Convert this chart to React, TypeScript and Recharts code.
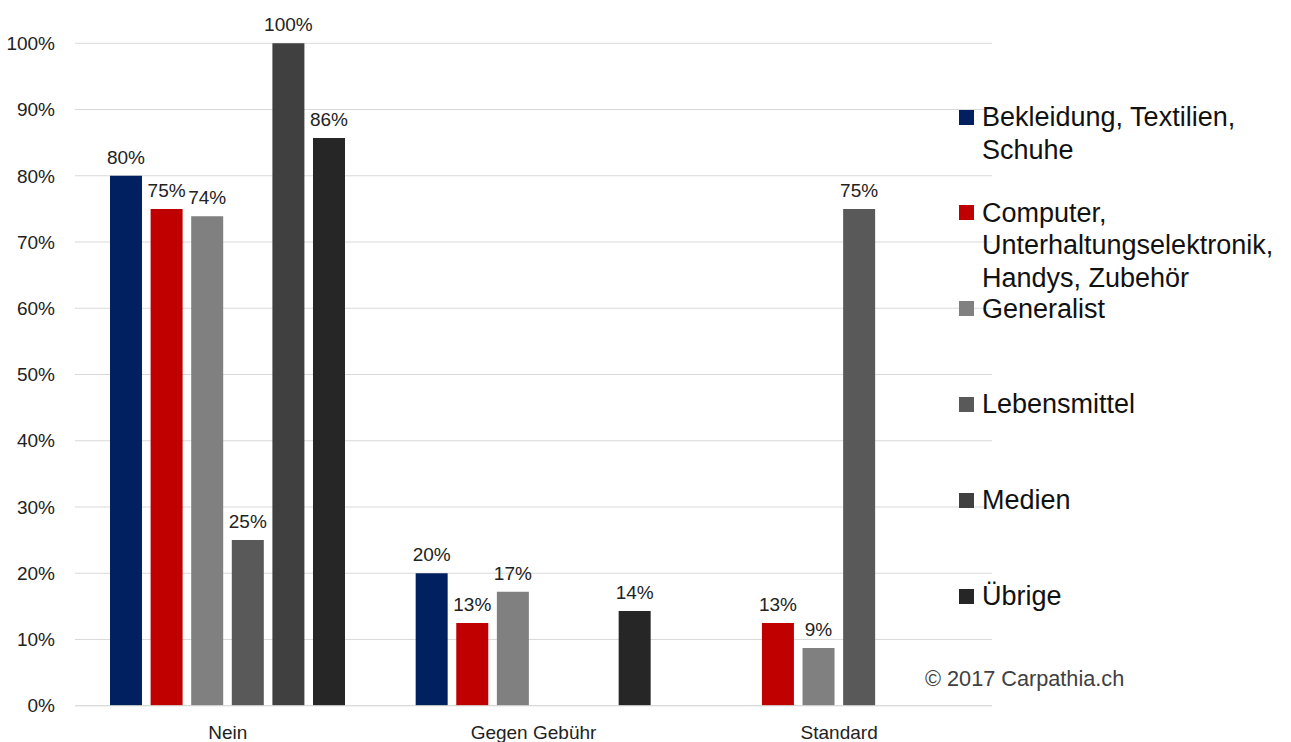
import React from 'react'
import {
  Bar,
  BarChart,
  CartesianGrid,
  LabelList,
  Legend,
  XAxis,
  YAxis,
} from 'recharts'

const categories = ['Nein', 'Gegen Gebühr', 'Standard']

const bekleidung = [80, 20, 0]
const computer = [75, 12.5, 12.5]
const generalist = [73.9, 17.2, 8.7]
const lebensmittel = [25, 0, 75]
const medien = [100, 0, 0]
const uebrige = [85.7, 14.3, 0]

const yTicks = [0, 10, 20, 30, 40, 50, 60, 70, 80, 90, 100]

const seriesNames = [
  'Bekleidung, Textilien,\nSchuhe',
  'Computer,\nUnterhaltungselektronik,\nHandys, Zubehör',
  'Generalist',
  'Lebensmittel',
  'Medien',
  'Übrige',
]
const seriesColors = ['#002060', '#C00000', '#808080', '#595959', '#404040', '#262626']
const seriesValues = [bekleidung, computer, generalist, lebensmittel, medien, uebrige]

const data = categories.map((name, i) => {
  const row: Record<string, string | number> = { name }
  seriesValues.forEach((vals, s) => {
    row[`s${s}`] = vals[i]
  })
  return row
})

const FONT = '"Liberation Sans", Arial, sans-serif'
const TEXT = '#222222'

const fmt = (v: any) => (v ? `${Math.round(Number(v))}%` : '')

function ChartLegend({ payload }: any) {
  return (
    <div style={{ position: 'relative', fontFamily: FONT }}>
      {(payload || []).map((entry: any, i: number) => (
        <div
          key={entry.value}
          style={{
            position: 'absolute',
            left: 0,
            top: 101 + i * 95.8,
            display: 'flex',
            alignItems: 'flex-start',
            whiteSpace: 'pre',
            fontSize: 27,
            lineHeight: '32.5px',
            color: '#111',
          }}
        >
          <span
            style={{
              display: 'inline-block',
              width: 15,
              height: 15,
              marginTop: 8.5,
              marginRight: 8,
              background: entry.color,
              flex: 'none',
            }}
          />
          <span>{entry.value}</span>
        </div>
      ))}
      <div
        style={{
          position: 'absolute',
          left: -34,
          top: 666,
          fontSize: 21.7,
          lineHeight: '26px',
          color: '#404040',
          whiteSpace: 'pre',
        }}
      >
        © 2017 Carpathia.ch
      </div>
    </div>
  )
}

export default function App() {
  return (
    <div
      style={{
        position: 'absolute',
        left: 0,
        top: 0,
        width: 1291,
        height: 742,
        overflow: 'hidden',
        background: '#fff',
        fontFamily: FONT,
      }}
    >
      <BarChart
        width={1291}
        height={742}
        data={data}
        margin={{ top: 43.3, right: 299, bottom: 0, left: 0 }}
        barSize={32}
        barGap={8.6}
      >
        <CartesianGrid vertical={false} stroke="#d9d9d9" />
        <XAxis
          dataKey="name"
          height={36.3}
          axisLine={{ stroke: '#d9d9d9' }}
          tickLine={false}
          tickMargin={14.3}
          tick={{ fill: TEXT, fontSize: 19, fontFamily: FONT }}
        />
        <YAxis
          width={75}
          domain={[0, 100]}
          ticks={yTicks}
          axisLine={false}
          tickLine={false}
          tickMargin={14}
          tickFormatter={(v) => `${v}%`}
          tick={{ fill: TEXT, fontSize: 19, fontFamily: FONT }}
        />
        <Legend
          layout="vertical"
          align="right"
          verticalAlign="top"
          content={(props: any) => <ChartLegend payload={props.payload} />}
          wrapperStyle={{ left: 959, top: 0, width: 0, height: 0 }}
        />
        {seriesNames.map((name, s) => (
          <Bar
            key={name}
            dataKey={`s${s}`}
            name={name}
            fill={seriesColors[s]}
            isAnimationActive={false}
          >
            <LabelList
              dataKey={`s${s}`}
              position="top"
              offset={12}
              formatter={fmt}
              style={{ fill: TEXT, fontSize: 19, fontFamily: FONT }}
            />
          </Bar>
        ))}
      </BarChart>
    </div>
  )
}
